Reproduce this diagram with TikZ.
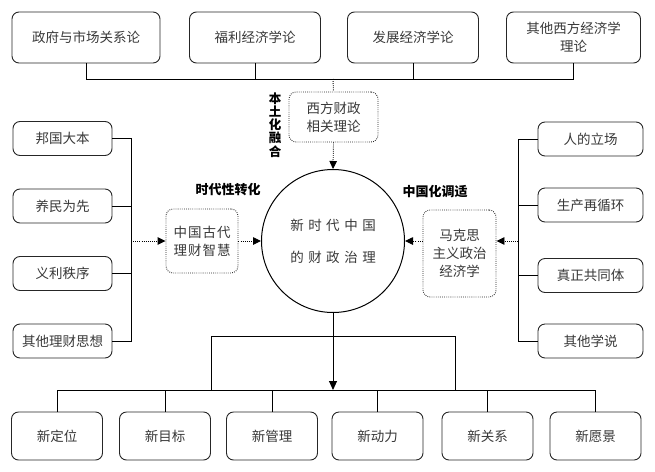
\documentclass[tikz,border=0pt]{standalone}
\usepackage{fontspec}
\setmainfont{Noto Sans CJK SC}
\usetikzlibrary{arrows.meta}
\newcommand\ls{\hspace{4.5pt}}
\begin{document}
\begin{tikzpicture}[x=1pt,y=-1pt,
 box/.style={draw=black!85, line width=0.9pt, rounded corners=7pt, text=black!78,
   font=\fontsize{13.5}{18}\selectfont, align=center, inner sep=0pt},
 dbox/.style={box, dash pattern=on 0.8pt off 1.3pt},
 link/.style={line width=1pt, black},
 dlink/.style={line width=0.9pt, black, dash pattern=on 0.8pt off 1.3pt, -{Triangle[length=8pt,width=7.5pt]}},
 slink/.style={line width=1pt, black, -{Triangle[length=9pt,width=8pt]}},
 lbl/.style={font=\fontsize{13}{15}\selectfont\bfseries, text=black, inner sep=0pt}
]
\useasboundingbox (0,0) rectangle (655,471);
% top row
\node[box, minimum width=148pt, minimum height=51pt] (t1) at (86,37.5) {政府与市场关系论};
\node[box, minimum width=131pt, minimum height=51pt] (t2) at (255,37.5) {福利经济学论};
\node[box, minimum width=131pt, minimum height=51pt] (t3) at (413,37.5) {发展经济学论};
\node[box, minimum width=134pt, minimum height=51pt] (t4) at (573.5,37.5) {其他西方经济学\\理论};
\coordinate (tb) at (333,79);
\draw[link] (t1.south) -- (t1.south |- tb) -- (t4.south |- tb) -- (t4.south);
\draw[link] (t2.south) -- (t2.south |- tb);
\draw[link] (t3.south) -- (t3.south |- tb);
% west theory
\node[dbox, minimum width=89pt, minimum height=50pt] (w) at (333.5,117) {西方财政\\相关理论};
\node[lbl, align=center, font=\fontsize{12.5}{13.2}\selectfont\bfseries] (bt) at (275,125) {本\\土\\化\\融\\合};
% circle
\node[draw=black, line width=1pt, circle, minimum size=143pt, inner sep=0pt, text=black!78,
  font=\fontsize{13.5}{32}\selectfont, align=center] (c) at (333,241)
  {新\ls 时\ls 代\ls 中\ls 国\\的\ls 财\ls 政\ls 治\ls 理};
\draw[link, dash pattern=on 0.8pt off 1.3pt] (tb) -- (w.north);
\draw[dlink] (w.south) -- (c.north);
% left
\node[box, minimum width=99pt, minimum height=34pt] (l1) at (62.5,138.5) {邦国大本};
\node[box, minimum width=99pt, minimum height=34pt] (l2) at (62.5,206) {养民为先};
\node[box, minimum width=99pt, minimum height=34pt] (l3) at (62.5,273.5) {义利秩序};
\node[box, minimum width=99pt, minimum height=34pt] (l4) at (62.5,341) {其他理财思想};
\coordinate (lb) at (131,241);
\draw[link] (l1.east) -- (l1.east -| lb) -- (l4.east -| lb) -- (l4.east);
\draw[link] (l2.east) -- (l2.east -| lb);
\draw[link] (l3.east) -- (l3.east -| lb);
\node[dbox, minimum width=72pt, minimum height=64pt] (g) at (202,241) {中\hspace{1pt}国\hspace{1pt}古\hspace{1pt}代\\理\hspace{1pt}财\hspace{1pt}智\hspace{1pt}慧};
\draw[dlink] (lb) -- (g.west);
\draw[dlink] (g.east) -- (c.west);
\node[lbl] (gl) at (228,190) {时代性转化};
% right
\node[box, minimum width=105pt, minimum height=34pt] (r1) at (590.5,139) {人的立场};
\node[box, minimum width=105pt, minimum height=34pt] (r2) at (590.5,205) {生产再循环};
\node[box, minimum width=105pt, minimum height=34pt] (r3) at (590.5,275.5) {真正共同体};
\node[box, minimum width=105pt, minimum height=34pt] (r4) at (590.5,341) {其他学说};
\coordinate (rb) at (518,241);
\draw[link] (r1.west) -- (r1.west -| rb) -- (r4.west -| rb) -- (r4.west);
\draw[link] (r2.west) -- (r2.west -| rb);
\draw[link] (r3.west) -- (r3.west -| rb);
\node[dbox, minimum width=73pt, minimum height=87pt] (m) at (459.5,253.5) {马克思\\主义政治\\经济学};
\draw[dlink] (rb) -- (rb -| m.east);
\draw[dlink] (m.west |- rb) -- (c.east);
\node[lbl] (ml) at (435,192) {中国化调适};
% bottom
\node[box, minimum width=91pt, minimum height=48pt] (b1) at (57,436) {新定位};
\node[box, minimum width=91pt, minimum height=48pt] (b2) at (165,436) {新目标};
\node[box, minimum width=91pt, minimum height=48pt] (b3) at (272,436) {新管理};
\node[box, minimum width=91pt, minimum height=48pt] (b4) at (377.5,436) {新动力};
\node[box, minimum width=91pt, minimum height=48pt] (b5) at (487.5,436) {新关系};
\node[box, minimum width=91pt, minimum height=48pt] (b6) at (595.5,436) {新愿景};
\coordinate (bb) at (333,390);
\coordinate (rl) at (211,390);
\coordinate (rr) at (455,390);
\draw[link] (b1.north) -- (b1.north |- bb) -- (b6.north |- bb) -- (b6.north);
\foreach \n in {b2,b3,b4,b5} \draw[link] (\n.north) -- (\n.north |- bb);
\draw[link] (rl) -- ++(0,-54) -| (rr);
\draw[slink] (c.south) -- (bb);
\end{tikzpicture}
\end{document}
